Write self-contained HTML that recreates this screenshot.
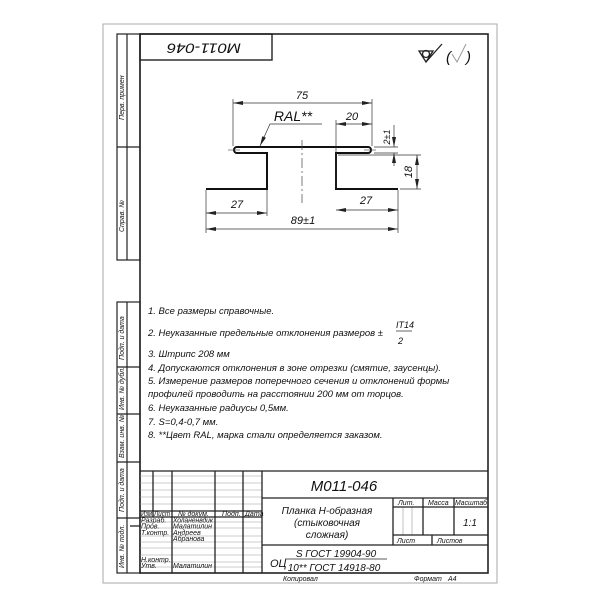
<!DOCTYPE html>
<html><head><meta charset="utf-8"><style>
html,body{margin:0;padding:0;background:#fff;}
svg{display:block}
text{font-family:"Liberation Sans",sans-serif;font-style:italic;fill:#111;}
</style></head><body>
<svg width="600" height="600" viewBox="0 0 600 600" xmlns="http://www.w3.org/2000/svg">
<rect x="103" y="24" width="394" height="559" fill="none" stroke="#aaa" stroke-width="1"/>
<rect x="140" y="34" width="348" height="539" fill="none" stroke="#222" stroke-width="1.6"/>
<g fill="none" stroke="#222" stroke-width="1.2">
<rect x="117" y="34" width="23" height="226"/>
<line x1="127" y1="34" x2="127" y2="260"/>
<line x1="117" y1="147" x2="140" y2="147"/>
<rect x="117" y="302" width="23" height="271"/>
<line x1="127" y1="302" x2="127" y2="573"/>
<line x1="117" y1="367" x2="140" y2="367"/>
<line x1="117" y1="414" x2="140" y2="414"/>
<line x1="117" y1="462" x2="140" y2="462"/>
<line x1="117" y1="518" x2="140" y2="518"/>
</g>
<g font-size="7">
<text transform="translate(124,120) rotate(-90)">Перв. примен</text>
<text transform="translate(124,232) rotate(-90)">Справ. №</text>
<text transform="translate(124,360) rotate(-90)">Подп. и дата</text>
<text transform="translate(124,410) rotate(-90)">Инв. № дубл.</text>
<text transform="translate(124,458) rotate(-90)">Взам. инв. №</text>
<text transform="translate(124,512) rotate(-90)">Подп. и дата</text>
<text transform="translate(124,568) rotate(-90)">Инв. № подл.</text>
</g>
<rect x="140" y="34" width="132" height="26" fill="none" stroke="#222" stroke-width="1.4"/>
<text transform="translate(204,47) rotate(180)" font-size="14" text-anchor="middle" dominant-baseline="middle" textLength="74" lengthAdjust="spacingAndGlyphs">M011-046</text>
<g fill="none" stroke="#222" stroke-width="1.3">
<path d="M419 51 L433 51 L426 62 Z M426 62 L442 44"/>
<circle cx="426" cy="54" r="3.5"/>
</g>
<text x="446" y="62" font-size="15" fill="#333">(</text>
<path d="M452 54 L457 62 L466 44" fill="none" stroke="#999" stroke-width="1"/>
<text x="466" y="62" font-size="15" fill="#333">)</text>
<path d="M206 189 H267 V153 H237 A3 3 0 0 1 237 147 H368 A3 3 0 0 1 368 153 H336 V189 H398" fill="none" stroke="#111" stroke-width="2"/>
<line x1="302" y1="140" x2="302" y2="203" stroke="#444" stroke-width="0.7" stroke-dasharray="10,3,2,3"/>
<line x1="228" y1="150" x2="240" y2="150" stroke="#444" stroke-width="0.6"/>
<line x1="364" y1="150" x2="376" y2="150" stroke="#444" stroke-width="0.6"/>
<defs><marker id="a" viewBox="0 0 10 4" refX="10" refY="2" markerWidth="10" markerHeight="4" orient="auto-start-reverse" markerUnits="userSpaceOnUse"><path d="M0 0 L10 2 L0 4z" fill="#222"/></marker></defs>
<g stroke="#333" stroke-width="0.7" fill="none">
<line x1="233" y1="99" x2="233" y2="146"/>
<line x1="372" y1="99" x2="372" y2="146"/>
<line x1="233" y1="103" x2="372" y2="103" marker-start="url(#a)" marker-end="url(#a)"/>
<line x1="336" y1="120" x2="336" y2="188"/>
<line x1="336" y1="124" x2="372" y2="124" marker-start="url(#a)" marker-end="url(#a)"/>
<path d="M260 146 L270 124 H322" marker-start="url(#a)"/>
<line x1="374" y1="147" x2="398" y2="147"/>
<line x1="374" y1="153" x2="398" y2="153"/>
<line x1="394" y1="125" x2="394" y2="147" marker-end="url(#a)"/>
<line x1="394" y1="166" x2="394" y2="153" marker-end="url(#a)"/>
<line x1="338" y1="155" x2="421" y2="155"/>
<line x1="400" y1="189" x2="421" y2="189"/>
<line x1="417" y1="155" x2="417" y2="189" marker-start="url(#a)" marker-end="url(#a)"/>
<line x1="206" y1="190" x2="206" y2="233"/>
<line x1="267" y1="190" x2="267" y2="216"/>
<line x1="398" y1="190" x2="398" y2="233"/>
<line x1="206" y1="213" x2="267" y2="213" marker-start="url(#a)" marker-end="url(#a)"/>
<line x1="336" y1="210" x2="398" y2="210" marker-start="url(#a)" marker-end="url(#a)"/>
<line x1="206" y1="229" x2="398" y2="229" marker-start="url(#a)" marker-end="url(#a)"/>
</g>
<g font-size="11" text-anchor="middle">
<text x="302" y="99">75</text>
<text x="352" y="120">20</text>
<text x="293" y="121" font-size="14">RAL**</text>
<text transform="translate(390,137) rotate(-90)" font-size="9">2±1</text>
<text transform="translate(412,172) rotate(-90)">18</text>
<text x="237" y="208">27</text>
<text x="366" y="204">27</text>
<text x="303" y="224">89±1</text>
</g>
<g font-size="9.5">
<text x="148" y="314">1. Все размеры справочные.</text>
<text x="148" y="336">2. Неуказанные предельные отклонения размеров ±</text>
<text x="396" y="328" font-size="9">IT14</text>
<line x1="396" y1="331" x2="412" y2="331" stroke="#222" stroke-width="0.7"/>
<text x="398" y="344" font-size="9">2</text>
<text x="148" y="357">3. Штрипс 208 мм</text>
<text x="148" y="371">4. Допускаются отклонения в зоне отрезки (смятие, заусенцы).</text>
<text x="148" y="384">5. Измерение размеров поперечного сечения и отклонений формы</text>
<text x="148" y="397">профилей проводить на расстоянии 200 мм от торцов.</text>
<text x="148" y="411">6. Неуказанные радиусы 0,5мм.</text>
<text x="148" y="425">7. S=0,4-0,7 мм.</text>
<text x="148" y="438">8. **Цвет RAL, марка стали определяется заказом.</text>
</g>
<g stroke="#999" stroke-width="0.6">
<line x1="140" y1="476" x2="262" y2="476"/><line x1="140" y1="483" x2="262" y2="483"/>
<line x1="140" y1="490" x2="262" y2="490"/><line x1="140" y1="497" x2="262" y2="497"/>
<line x1="140" y1="504" x2="262" y2="504"/>
<line x1="140" y1="522" x2="262" y2="522"/><line x1="140" y1="528" x2="262" y2="528"/>
<line x1="140" y1="536" x2="262" y2="536"/><line x1="140" y1="542" x2="262" y2="542"/>
<line x1="140" y1="548" x2="262" y2="548"/><line x1="140" y1="555" x2="262" y2="555"/>
<line x1="140" y1="562" x2="262" y2="562"/><line x1="140" y1="567" x2="262" y2="567"/>
<line x1="403" y1="507" x2="403" y2="535"/><line x1="412" y1="507" x2="412" y2="535"/>
</g>
<g stroke="#222" stroke-width="1.3" fill="none">
<line x1="140" y1="471" x2="488" y2="471"/>
<line x1="140" y1="511" x2="262" y2="511"/>
<line x1="140" y1="517" x2="262" y2="517"/>
<line x1="153" y1="471" x2="153" y2="517"/>
<line x1="172" y1="471" x2="172" y2="573"/>
<line x1="215" y1="471" x2="215" y2="573"/>
<line x1="243" y1="471" x2="243" y2="573"/>
<line x1="262" y1="471" x2="262" y2="573"/>
<line x1="262" y1="498" x2="488" y2="498"/>
<line x1="393" y1="498" x2="393" y2="545"/>
<line x1="393" y1="507" x2="488" y2="507"/>
<line x1="423" y1="498" x2="423" y2="535"/>
<line x1="454" y1="498" x2="454" y2="535"/>
<line x1="393" y1="535" x2="488" y2="535"/>
<line x1="432" y1="535" x2="432" y2="545"/>
<line x1="262" y1="545" x2="488" y2="545"/>
<line x1="130" y1="526" x2="140" y2="526"/>
</g>
<g font-size="7">
<text x="141" y="516" textLength="11" lengthAdjust="spacingAndGlyphs">Изм</text><text x="154" y="516" textLength="16" lengthAdjust="spacingAndGlyphs">Лист</text>
<text x="178" y="516">№ докум.</text><text x="222" y="516">Подп.</text><text x="245" y="516">Дата</text>
<text x="141" y="522.5">Разраб.</text><text x="173" y="522.5" textLength="40" lengthAdjust="spacingAndGlyphs">Холаненвдик</text>
<text x="141" y="528.5">Пров.</text><text x="173" y="528.5">Малатилин</text>
<text x="141" y="535">Т.контр.</text><text x="173" y="535">Андреев</text>
<text x="173" y="541">Абранова</text>
<text x="141" y="562">Н.контр.</text>
<text x="141" y="568">Утв.</text><text x="173" y="568">Малатилин</text>
<text x="398" y="505">Лит.</text><text x="428" y="505">Масса</text><text x="455" y="505" textLength="32" lengthAdjust="spacingAndGlyphs">Масштаб</text>
<text x="397" y="543">Лист</text><text x="437" y="543">Листов</text>
<text x="283" y="581">Копировал</text>
<text x="414" y="581">Формат</text><text x="448" y="581">А4</text>
</g>
<text x="344" y="491" font-size="15" text-anchor="middle">M011-046</text>
<text x="470" y="526" font-size="10" text-anchor="middle">1:1</text>
<g font-size="10" text-anchor="middle">
<text x="327" y="514">Планка Н-образная</text>
<text x="327" y="526">(стыковочная</text>
<text x="327" y="538">сложная)</text>
</g>
<text x="270" y="567" font-size="11">ОЦ</text>
<text x="336" y="557" font-size="10" text-anchor="middle">S ГОСТ 19904-90</text>
<line x1="285" y1="559" x2="387" y2="559" stroke="#222" stroke-width="0.7"/>
<text x="334" y="571" font-size="10" text-anchor="middle">10** ГОСТ 14918-80</text>
</svg>
</body></html>
